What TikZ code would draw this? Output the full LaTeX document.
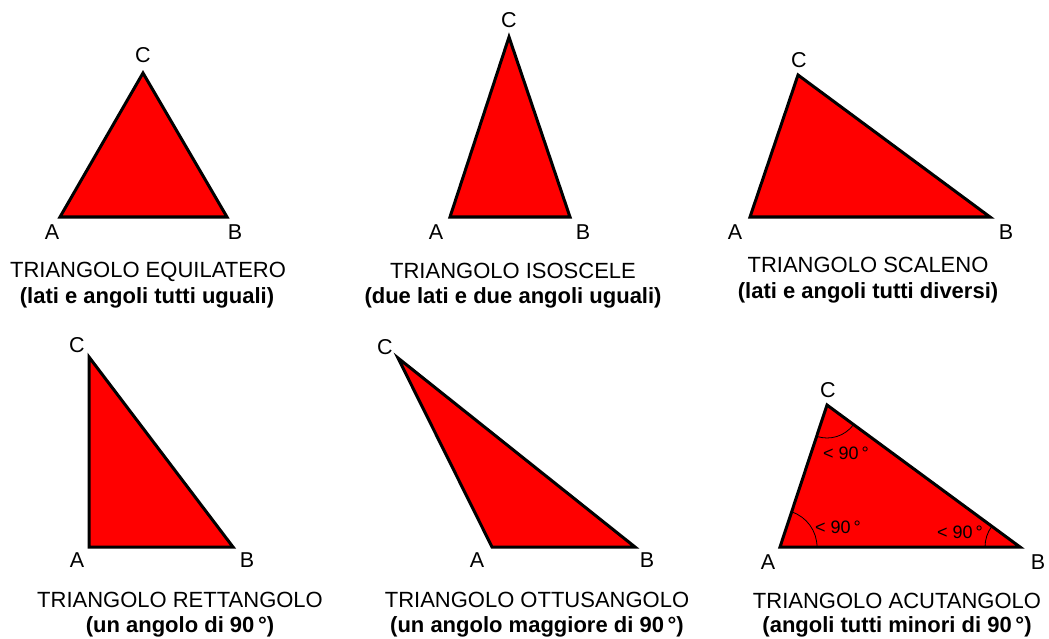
\documentclass[tikz,border=0pt]{standalone}
\usepackage{fontspec}
\setmainfont{Liberation Sans}
\usetikzlibrary{angles}

\tikzset{
  triangolo/.style={fill=red, draw=black, line width=3pt, line join=miter},
  lettera/.style={font=\fontsize{21.5}{26}\selectfont, inner sep=0pt},
  titolo/.style={font=\fontsize{22}{26}\selectfont, inner sep=0pt, anchor=base},
  sottotitolo/.style={font=\fontsize{22}{26}\selectfont\bfseries, inner sep=0pt, anchor=base},
  gradi/.style={font=\fontsize{18}{22}\selectfont, inner sep=0pt},
  arco/.style={draw=black, line width=0.8pt, angle radius=35pt}
}

\begin{document}
\begin{tikzpicture}[x=1pt,y=-1pt]
    \useasboundingbox (0,0) rectangle (1049,639);

    % Equilatero
    \coordinate (A1) at (60,217);
    \coordinate (B1) at (227,217);
    \coordinate (C1) at (143,73);
    \draw[triangolo] (A1) -- (B1) -- (C1) -- cycle;
    \node[lettera] (lA1) at (52,232) {A};
    \node[lettera] (lB1) at (235,232) {B};
    \node[lettera] (lC1) at (143,55) {C};
    \node[titolo] (t1) at (148,277) {TRIANGOLO EQUILATERO};
    \node[sottotitolo] (s1) at (147,303) {(lati e angoli tutti uguali)};

    % Isoscele
    \coordinate (A2) at (450,217);
    \coordinate (B2) at (570,217);
    \coordinate (C2) at (509,37);
    \draw[triangolo] (A2) -- (B2) -- (C2) -- cycle;
    \node[lettera] (lA2) at (436,232) {A};
    \node[lettera] (lB2) at (583,232) {B};
    \node[lettera] (lC2) at (509,20) {C};
    \node[titolo] (t2) at (513,278) {TRIANGOLO ISOSCELE};
    \node[sottotitolo] (s2) at (513,303) {(due lati e due angoli uguali)};

    % Scaleno
    \coordinate (A3) at (750,217);
    \coordinate (B3) at (990,217);
    \coordinate (C3) at (798,75);
    \draw[triangolo] (A3) -- (B3) -- (C3) -- cycle;
    \node[lettera] (lA3) at (735,232) {A};
    \node[lettera] (lB3) at (1006,232) {B};
    \node[lettera] (lC3) at (799,60) {C};
    \node[titolo] (t3) at (868,272) {TRIANGOLO SCALENO};
    \node[sottotitolo] (s3) at (868,298) {(lati e angoli tutti diversi)};

    % Rettangolo
    \coordinate (A4) at (89,547);
    \coordinate (B4) at (233,547);
    \coordinate (C4) at (89,357);
    \draw[triangolo] (A4) -- (B4) -- (C4) -- cycle;
    \node[lettera] (lA4) at (77,560) {A};
    \node[lettera] (lB4) at (247,560) {B};
    \node[lettera] (lC4) at (77,345) {C};
    \node[titolo] (t4) at (180,607) {TRIANGOLO RETTANGOLO};
    \node[sottotitolo] (s4) at (180,632) {(un angolo di 90\,°)};

    % Ottusangolo
    \coordinate (A5) at (492,547);
    \coordinate (B5) at (635,547);
    \coordinate (C5) at (398,358);
    \draw[triangolo] (A5) -- (B5) -- (C5) -- cycle;
    \node[lettera] (lA5) at (477,560) {A};
    \node[lettera] (lB5) at (647,560) {B};
    \node[lettera] (lC5) at (385,347) {C};
    \node[titolo] (t5) at (537,607) {TRIANGOLO OTTUSANGOLO};
    \node[sottotitolo] (s5) at (537,632) {(un angolo maggiore di 90\,°)};

    % Acutangolo con gli archi degli angoli
    \coordinate (A6) at (780,547);
    \coordinate (B6) at (1020,547);
    \coordinate (C6) at (827,405);
    \fill[red] (A6) -- (B6) -- (C6) -- cycle;
    \pic[arco, angle radius=37pt] {angle = B6--A6--C6};
    \pic[arco, angle radius=33pt] {angle = A6--C6--B6};
    \pic[arco] {angle = C6--B6--A6};
    \draw[triangolo, fill=none] (A6) -- (B6) -- (C6) -- cycle;
    \node[gradi] (gA6) at (838,527) {< 90\,°};
    \node[gradi] (gB6) at (960,532) {< 90\,°};
    \node[gradi] (gC6) at (846,453) {< 90\,°};
    \node[lettera] (lA6) at (768,562) {A};
    \node[lettera] (lB6) at (1038,562) {B};
    \node[lettera] (lC6) at (828,390) {C};
    \node[titolo] (t6) at (897,608) {TRIANGOLO ACUTANGOLO};
    \node[sottotitolo] (s6) at (897,632) {(angoli tutti minori di 90\,°)};
\end{tikzpicture}
\end{document}
